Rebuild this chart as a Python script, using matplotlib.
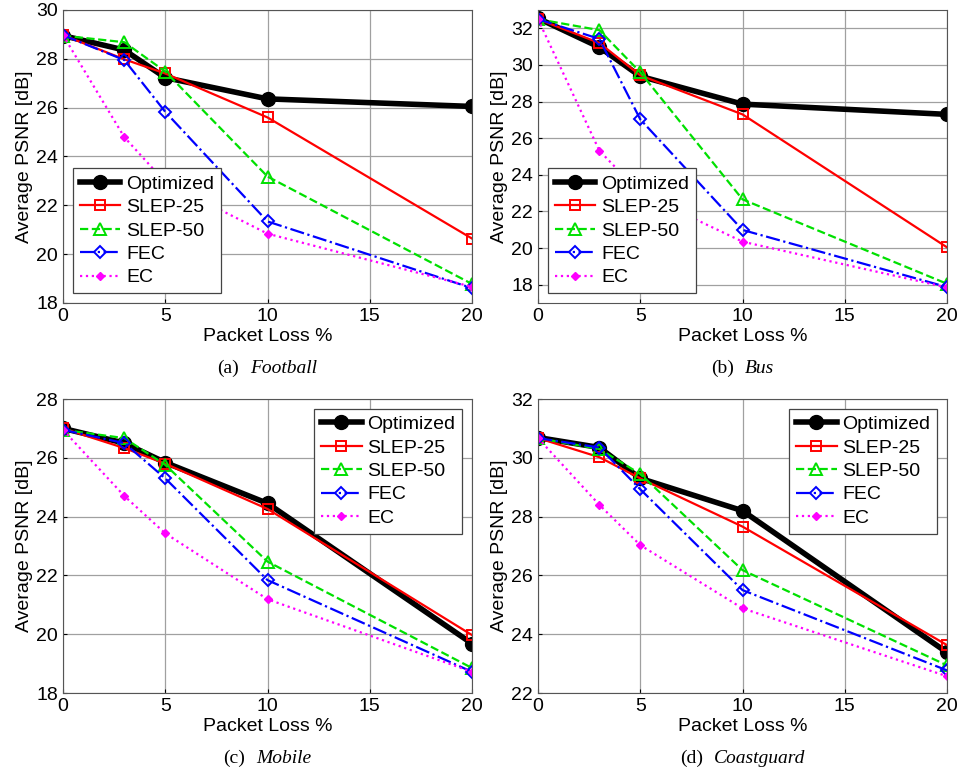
import matplotlib
matplotlib.use("Agg")
import matplotlib.pyplot as plt
from matplotlib.offsetbox import TextArea, HPacker, AnnotationBbox

plt.rcParams['font.family'] = ['Liberation Sans', 'DejaVu Sans']

# packet loss levels
loss = [0, 3, 5, 10, 20]
labels = ['Optimized', 'SLEP-25', 'SLEP-50', 'FEC', 'EC']

# average PSNR per sequence, one list per scheme (order as in labels)
football = [
    [28.95, 28.36, 27.23, 26.36, 26.05],
    [28.97, 27.98, 27.40, 25.60, 20.64],
    [28.95, 28.68, 27.48, 23.18, 18.78],
    [28.97, 27.95, 25.83, 21.34, 18.61],
    [28.97, 24.79, 22.95, 20.84, 18.66],
]
bus = [
    [32.55, 30.97, 29.38, 27.86, 27.30],
    [32.50, 31.20, 29.43, 27.30, 20.04],
    [32.50, 31.90, 29.60, 22.66, 18.05],
    [32.50, 31.42, 27.03, 20.99, 17.87],
    [32.50, 25.32, 23.00, 20.35, 17.85],
]
mobile = [
    [27.00, 26.50, 25.84, 24.45, 19.68],
    [27.00, 26.33, 25.80, 24.26, 19.97],
    [26.95, 26.67, 25.76, 22.47, 18.85],
    [26.95, 26.50, 25.30, 21.84, 18.72],
    [26.95, 24.70, 23.43, 21.19, 18.72],
]
coastguard = [
    [30.69, 30.35, 29.30, 28.20, 23.38],
    [30.67, 30.02, 29.30, 27.66, 23.63],
    [30.67, 30.30, 29.45, 26.18, 22.94],
    [30.67, 30.35, 28.93, 25.50, 22.77],
    [30.67, 28.40, 27.03, 24.88, 22.57],
]

panels = [
    ('(a)', 'Football', football, (18, 30), range(18, 31, 2), 'lower left'),
    ('(b)', 'Bus', bus, (17, 33), range(18, 33, 2), 'lower left'),
    ('(c)', 'Mobile', mobile, (18, 28), range(18, 29, 2), 'upper right'),
    ('(d)', 'Coastguard', coastguard, (22, 32), range(22, 33, 2), 'upper right'),
]

# pixel boxes of the four axes: left, top, right, bottom
boxes = [(63, 10, 472, 303), (538, 10, 947, 303),
         (63, 399, 472, 693), (538, 399, 947, 693)]

styles = [
    dict(color='black', lw=4, ls='-', marker='o', ms=10, mfc='black'),
    dict(color='red', lw=1.6, ls='-', marker='s', ms=7, mfc='none', mew=1.4),
    dict(color='#00e000', lw=1.6, ls='--', marker='^', ms=8, mfc='none', mew=1.4),
    dict(color='blue', lw=1.6, ls='-.', marker='D', ms=6, mfc='none', mew=1.4),
    dict(color='magenta', lw=1.6, ls=':', marker='D', ms=4.5, mfc='magenta'),
]

W, H = 957, 772
fig = plt.figure(figsize=(W / 100, H / 100), dpi=100)

for (tag, name, data, ylim, yt, loc), (l, t, r, b) in zip(panels, boxes):
    ax = fig.add_axes([l / W, (H - b) / H, (r - l) / W, (b - t) / H])
    for vals, lab, st in zip(data, labels, styles):
        ax.plot(loss, vals, label=lab, **st)
    ax.set_xlim(0, 20)
    ax.set_ylim(*ylim)
    ax.set_xticks([0, 5, 10, 15, 20])
    ax.set_yticks(list(yt))
    ax.grid(True, color='#a0a0a0', lw=0.9)
    ax.tick_params(labelsize=14, direction='in', length=3)
    for sp in ax.spines.values():
        sp.set_color('#555555')
    ax.set_xlabel('Packet Loss %', fontsize=14, labelpad=2)
    ax.set_ylabel('Average PSNR [dB]', fontsize=14, labelpad=2)
    leg = ax.legend(loc=loc, fontsize=14, fancybox=False, framealpha=1,
                    edgecolor='#444444', handlelength=2.1, labelspacing=0.3,
                    borderaxespad=0.5, handletextpad=0.3, borderpad=0.35)
    leg.get_frame().set_linewidth(0.9)

    cap = HPacker(children=[
        TextArea(tag, textprops=dict(family='Liberation Serif', fontsize=14)),
        TextArea(name, textprops=dict(family='Liberation Serif', fontsize=14,
                                      style='italic')),
    ], pad=0, sep=8, align='baseline')
    ab = AnnotationBbox(cap, ((l + r) / 2 / W, (H - b - 65) / H),
                        xycoords='figure fraction', frameon=False,
                        box_alignment=(0.5, 0.5))
    fig.add_artist(ab)

fig.savefig('out.png', dpi=100)
